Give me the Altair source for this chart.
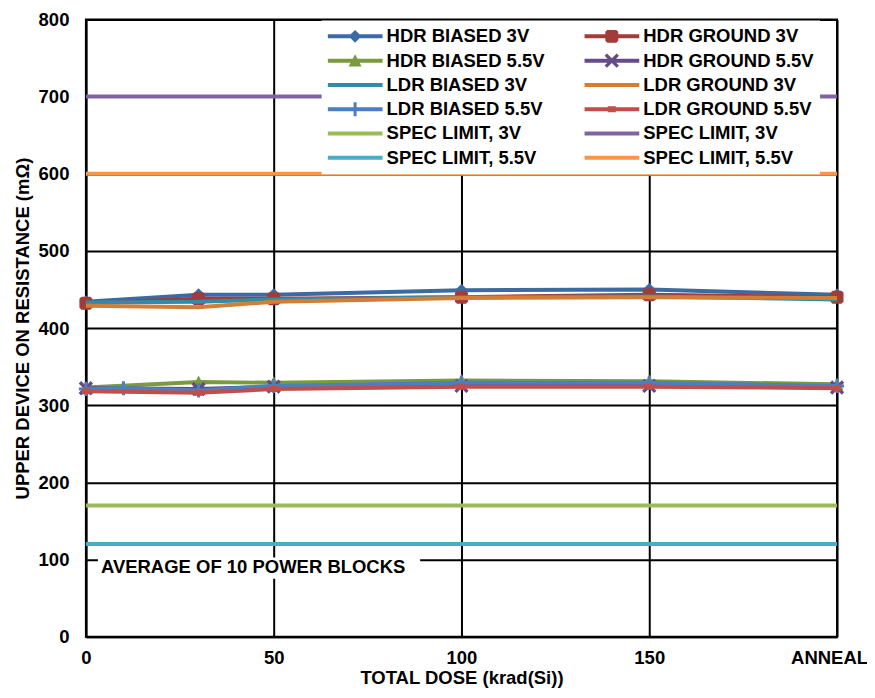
import altair as alt
import pandas as pd

# ---------------- data ----------------
dose = [0, 30, 50, 100, 150, 200]          # 200 = ANNEAL
dose_ldr_b55 = [0, 10, 30, 50, 100, 150, 200]

hdr_biased_3v = [434, 443, 443, 449, 450, 443]
hdr_ground_3v = [432, 438, 438, 440, 443, 440]
hdr_biased_55v = [323, 330, 329, 332, 331, 327]
hdr_ground_55v = [322, 321, 324, 325, 325, 323]
ldr_biased_3v = [433, 434, 437, 440, 441, 437]
ldr_ground_3v = [429, 427, 434, 439, 440, 439]
ldr_biased_55v = [321, 322, 319, 325, 329, 329, 325]
ldr_ground_55v = [318, 316, 321, 324, 324, 322]

spec_x = [0, 200]
spec_3v_a = [170, 170]
spec_3v_b = [700, 700]
spec_55v_a = [120, 120]
spec_55v_b = [600, 600]

x_ticks = [0, 50, 100, 150, 200]
y_ticks = [0, 100, 200, 300, 400, 500, 600, 700, 800]

# legend order (column-major: left column first, then right column)
names = ["HDR BIASED 3V", "HDR BIASED 5.5V", "LDR BIASED 3V", "LDR BIASED 5.5V",
         "SPEC LIMIT, 3V", "SPEC LIMIT, 5.5V",
         "HDR GROUND 3V", "HDR GROUND 5.5V", "LDR GROUND 3V", "LDR GROUND 5.5V",
         "SPEC LIMIT, 3V ", "SPEC LIMIT, 5.5V "]
colors = ["#3C6AA5", "#7A9A3F", "#358BA5", "#4C7FC0", "#9BBB59", "#4BACC6",
          "#A23C3A", "#654C86", "#D37E34", "#C24E4B", "#8064A2", "#F79646"]
leg_markers = ["diamond", "triangle", None, "plus", None, None,
               "square", "x", None, "dash", None, None]

note_text = ["AVERAGE OF 10 POWER BLOCKS"]

# ---------------- marker shapes (pixel polygons) ----------------
a, o = 6.0, 1.2
MK = {
    "diamond": [[(0, -6.5), (6.5, 0), (0, 6.5), (-6.5, 0)]],
    "square": [[(-4.5, -6.5), (4.5, -6.5), (6.5, -4.5), (6.5, 4.5), (4.5, 6.5),
                (-4.5, 6.5), (-6.5, 4.5), (-6.5, -4.5)]],
    "triangle": [[(0, -6.5), (6.5, 6), (-6.5, 6)]],
    "x": [[(-a + o, -a - o), (a + o, a - o), (a - o, a + o), (-a - o, -a + o)],
          [(-a - o, a - o), (a - o, -a - o), (a + o, -a + o), (-a + o, a + o)]],
    "plus": [[(-7, -1.5), (7, -1.5), (7, 1.5), (-7, 1.5)],
             [(-1.5, -7), (1.5, -7), (1.5, 7), (-1.5, 7)]],
    "dash": [[(-4, -3), (4, -3), (4, 3), (-4, 3)]],
    None: [],
}
LEG_LINE = [[(-27.5, -2), (27.5, -2), (27.5, 2), (-27.5, 2)]]


def poly_path(polys, scale):
    parts = []
    for poly in polys:
        pts = ["%.3f,%.3f" % (x / scale, y / scale) for x, y in poly]
        parts.append("M" + "L".join(pts) + "Z")
    return "".join(parts)


FONT = "Liberation Sans"
FS = 18.5
P_SIZE = 144      # 6 px per path unit
L_SIZE = 3025     # 27.5 px per path unit

# drawing order (as in the original workbook)
series = [
    ("HDR BIASED 3V", dose, hdr_biased_3v, "diamond"),
    ("HDR GROUND 3V", dose, hdr_ground_3v, "square"),
    ("HDR BIASED 5.5V", dose, hdr_biased_55v, "triangle"),
    ("HDR GROUND 5.5V", dose, hdr_ground_55v, "x"),
    ("LDR BIASED 3V", dose, ldr_biased_3v, None),
    ("LDR GROUND 3V", dose, ldr_ground_3v, None),
    ("LDR BIASED 5.5V", dose_ldr_b55, ldr_biased_55v, "plus"),
    ("LDR GROUND 5.5V", dose, ldr_ground_55v, "dash"),
    ("SPEC LIMIT, 3V", spec_x, spec_3v_a, None),
    ("SPEC LIMIT, 3V ", spec_x, spec_3v_b, None),
    ("SPEC LIMIT, 5.5V", spec_x, spec_55v_a, None),
    ("SPEC LIMIT, 5.5V ", spec_x, spec_55v_b, None),
]
color_of = dict(zip(names, colors))

x_axis = alt.Axis(values=x_ticks, title="TOTAL DOSE (krad(Si))",
                  labelExpr="datum.value == 200 ? 'ANNEAL' : datum.label",
                  labelOffset={"condition": {"test": "datum.value == 200", "value": -8},
                               "value": 0},
                  labelFlush=False, labelOverlap=False, ticks=False, tickSize=0,
                  labelPadding=12, titlePadding=1)
y_axis = alt.Axis(values=y_ticks, title="UPPER DEVICE ON RESISTANCE (mΩ)",
                  ticks=False, tickSize=0, labelPadding=17, titlePadding=6,
                  labelOverlap=False)
x_scale = alt.Scale(domain=[0, 200], nice=False, zero=False)
y_scale = alt.Scale(domain=[0, 800], nice=False)


def X(field):
    return alt.X(field, type="quantitative", scale=x_scale, axis=x_axis)


def Y(field):
    return alt.Y(field, type="quantitative", scale=y_scale, axis=y_axis)


layers = []

# annotation box + text (behind data, covers grid)
note_df = pd.DataFrame({"dose": [3.2], "dose2": [89.0], "res": [75.0], "res2": [102.5],
                        "tx": [4.0], "ty": [90.8], "label": note_text})
layers.append(alt.Chart(note_df).mark_rect(color="white").encode(
    x=X("dose"), x2="dose2", y=Y("res"), y2="res2"))
layers.append(alt.Chart(note_df).mark_text(
    align="left", baseline="middle", font=FONT, fontSize=FS, fontWeight="bold",
    color="black").encode(x=X("tx"), y=Y("ty"), text="label:N"))

for name, xs, ys, mk in series:
    df = pd.DataFrame({"dose": xs, "res": ys})
    base = alt.Chart(df).encode(x=X("dose"), y=Y("res"))
    col = color_of[name]
    layers.append(base.mark_line(color=col, strokeWidth=4))
    if mk is not None:
        layers.append(base.mark_point(shape=poly_path(MK[mk], 6.0), size=P_SIZE,
                                      filled=True, color=col, opacity=1,
                                      strokeWidth=0))

# legend-only layer (no drawn marks)
leg_paths = [poly_path(LEG_LINE + MK[m], 27.5) for m in leg_markers]
LEG = alt.Legend(title=None, orient="none", legendX=236, legendY=1, columns=2,
                 columnPadding=39, rowPadding=4.3, clipHeight=20, padding=6,
                 fillColor="white", symbolSize=L_SIZE, symbolStrokeWidth=0,
                 symbolOpacity=1, labelFont=FONT, labelFontSize=FS,
                 labelFontWeight="bold", labelColor="black", labelOffset=4,
                 labelLimit=400, labelExpr="trim(datum.label)")
leg_df = pd.DataFrame({"series": names})
layers.append(alt.Chart(leg_df).transform_filter("false").mark_point(
    filled=True, opacity=1, strokeWidth=0).encode(
    color=alt.Color("series:N", scale=alt.Scale(domain=names, range=colors), legend=LEG),
    shape=alt.Shape("series:N", scale=alt.Scale(domain=names, range=leg_paths), legend=LEG),
))

chart = alt.layer(*layers).properties(
    width=752, height=618,
    autosize=alt.AutoSizeParams(type="none"),
    padding={"left": 78, "top": 11, "right": 30, "bottom": 53},
).configure_view(stroke="black", strokeWidth=2).configure_axis(
    domainColor="black", domainWidth=2, gridColor="black", gridWidth=2,
    gridOpacity=1, labelFont=FONT, labelFontSize=FS, labelFontWeight="bold",
    labelColor="black", titleFont=FONT, titleFontSize=FS, titleFontWeight="bold",
    titleColor="black",
)

chart.save("out.html", embed_options={"renderer": "svg", "actions": False})
